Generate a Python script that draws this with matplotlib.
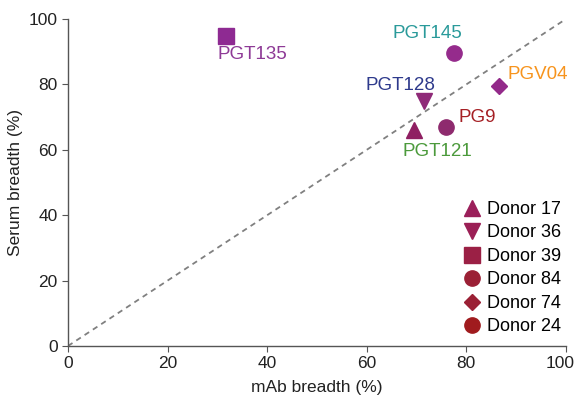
import matplotlib
matplotlib.use("Agg")
import matplotlib.pyplot as plt
import matplotlib.transforms as mtransforms
from matplotlib.lines import Line2D

plt.rcParams['font.family'] = ['Liberation Sans', 'DejaVu Sans']

# mAb data
antibodies = ["PGT121", "PGT128", "PGT135", "PGT145", "PGV04", "PG9"]
mab_breadth = [69.5, 71.5, 31.8, 77.5, 86.5, 76.0]
serum_breadth = [66.0, 75.0, 94.8, 89.5, 79.5, 67.0]
markers = ["^", "v", "s", "o", "D", "o"]
marker_colors = ["#8f1f62", "#8f2a78", "#8e2a92", "#952b8c", "#932a8a", "#8e2a6e"]
label_colors = ["#4c9a3c", "#2e3a8c", "#8e3a96", "#2a9a9a", "#f7941d", "#a51f24"]
# label offsets in points (dx, dy)
label_offsets = [(17, -15), (-17, 11), (19, -13), (-19, 14), (28, 8), (22, 7)]

donors = ["Donor 17", "Donor 36", "Donor 39", "Donor 84", "Donor 74", "Donor 24"]
donor_markers = ["^", "v", "s", "o", "D", "o"]
donor_colors = ["#9b1f5a", "#9b1f55", "#9b2045", "#9b2035", "#9b2035", "#a01b1e"]

fig = plt.figure(figsize=(5.78, 3.97), dpi=100)
ax = fig.add_axes([0.1176, 0.1285, 0.8614, 0.8235])

ax.plot([0, 100], [0, 100], ls=(0, (3, 2.5)), color="#808080", lw=1.3, zorder=1)

sizes = {"^": 11, "v": 11, "s": 11, "o": 11, "D": 8}
for name, x, y, m, mc, lc, off in zip(antibodies, mab_breadth, serum_breadth,
                                      markers, marker_colors, label_colors, label_offsets):
    ax.plot(x, y, marker=m, color=mc, markersize=sizes[m], ls="none", zorder=3)
    ax.annotate(name, (x, y), xytext=off, textcoords="offset points",
                ha="center", va="center", color=lc, fontsize=13.5)

ax.set_xlim(0, 100)
ax.set_ylim(0, 100)
ax.set_xticks(range(0, 101, 20))
ax.set_yticks(range(0, 101, 20))
ax.set_xlabel("mAb breadth (%)", fontsize=12.5, color="#222222", labelpad=6)
ax.set_ylabel("Serum breadth (%)", fontsize=12.5, color="#222222")
ax.tick_params(labelsize=12.5, colors="#222222", length=4, color="#555555")
for side in ["top", "right"]:
    ax.spines[side].set_visible(False)
for side in ["left", "bottom"]:
    ax.spines[side].set_color("#555555")
    ax.spines[side].set_linewidth(1.0)

handles = [Line2D([0], [0], marker=m, color=c, ls="none",
                  markersize=(8 if m == "D" else 11), label=d)
           for d, m, c in zip(donors, donor_markers, donor_colors)]
ax.legend(handles=handles, loc="lower right", frameon=False, fontsize=13,
          handlelength=1.5, handletextpad=0.1, labelspacing=0.36,
          borderaxespad=0.0, bbox_to_anchor=(1.005, 0.01))

# nudge the last x tick label left so it stays inside the figure
fig.canvas.draw()
last = ax.xaxis.get_major_ticks()[-1].label1
last.set_transform(last.get_transform() +
                   mtransforms.ScaledTranslation(-4 / 72, 0, fig.dpi_scale_trans))

fig.savefig("out.png", dpi=100)
